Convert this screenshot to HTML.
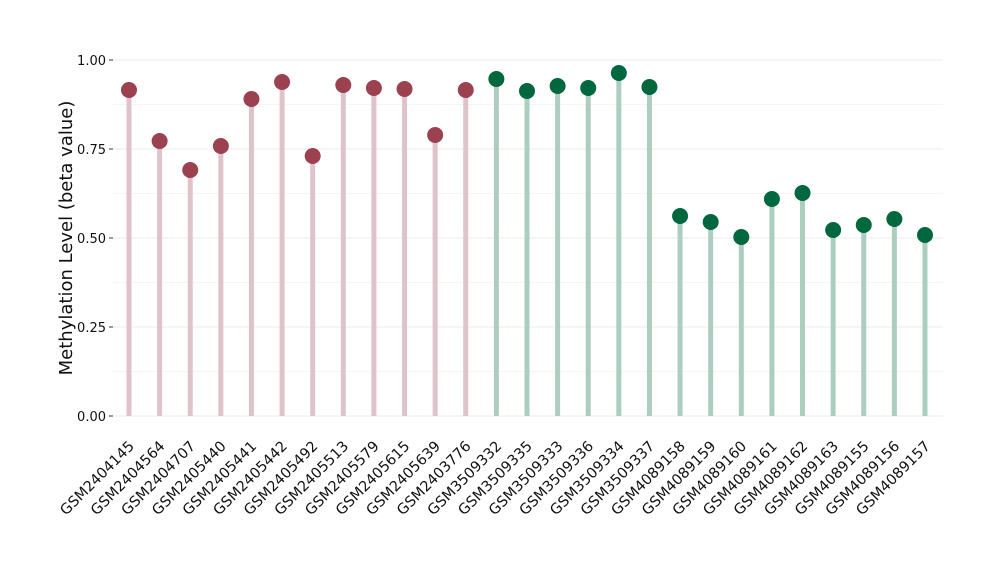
<!DOCTYPE html>
<html><head><meta charset="utf-8"><style>
body{margin:0;background:#fff}
svg text{font-family:"DejaVu Sans","Liberation Sans",sans-serif}
</style></head><body>
<svg width="1000" height="580" viewBox="0 0 1000 580" xmlns="http://www.w3.org/2000/svg">
<g stroke="#ebebeb" stroke-width="1">
<line x1="113" x2="943" y1="60" y2="60"/><line x1="113" x2="943" y1="149" y2="149"/>
<line x1="113" x2="943" y1="238" y2="238"/><line x1="113" x2="943" y1="327" y2="327"/>
<line x1="113" x2="943" y1="416" y2="416"/>
<line x1="113" x2="943" y1="104.5" y2="104.5" stroke="#f5f5f5"/><line x1="113" x2="943" y1="193.5" y2="193.5" stroke="#f5f5f5"/>
<line x1="113" x2="943" y1="282.5" y2="282.5" stroke="#f5f5f5"/><line x1="113" x2="943" y1="371.5" y2="371.5" stroke="#f5f5f5"/>
</g>
<g stroke="#333" stroke-width="1">
<line x1="109" x2="113" y1="60" y2="60"/><line x1="109" x2="113" y1="149" y2="149"/><line x1="109" x2="113" y1="238" y2="238"/><line x1="109" x2="113" y1="327" y2="327"/><line x1="109" x2="113" y1="416" y2="416"/>
</g>
<g font-size="13" fill="#111" text-anchor="end">
<text x="106" y="65">1.00</text><text x="106" y="154">0.75</text><text x="106" y="243">0.50</text><text x="106" y="332">0.25</text><text x="106" y="421">0.00</text>
</g>
<text transform="translate(72,238) rotate(-90)" font-size="18" text-anchor="middle" fill="#111">Methylation Level (beta value)</text>
<g id="d"></g>
</svg>
<script>
var names=["GSM2404145","GSM2404564","GSM2404707","GSM2405440","GSM2405441","GSM2405442","GSM2405492","GSM2405513","GSM2405579","GSM2405615","GSM2405639","GSM2403776","GSM3509332","GSM3509335","GSM3509333","GSM3509336","GSM3509334","GSM3509337","GSM4089158","GSM4089159","GSM4089160","GSM4089161","GSM4089162","GSM4089163","GSM4089155","GSM4089156","GSM4089157"];
var ys=[90,141,170,146,99,82,156,85,88,89,135,90,79,91,86,88,73,87,216,222,237,199,193,230,225,219,235];
var s="";
for(var i=0;i<27;i++){var x=129+i*30.615;var r=i<12;
s+='<line x1="'+x+'" x2="'+x+'" y1="416" y2="'+ys[i]+'" stroke="'+(r?'#dfc3ca':'#accdbf')+'" stroke-width="5"/>';
s+='<circle cx="'+x+'" cy="'+ys[i]+'" r="8" fill="'+(r?'#9b4150':'#00673e')+'"/>';
s+='<text transform="translate('+(x+6)+',447) rotate(-45)" text-anchor="end" font-size="14.5" fill="#111">'+names[i]+'</text>';}
document.getElementById("d").innerHTML=s;
</script>
</body></html>
